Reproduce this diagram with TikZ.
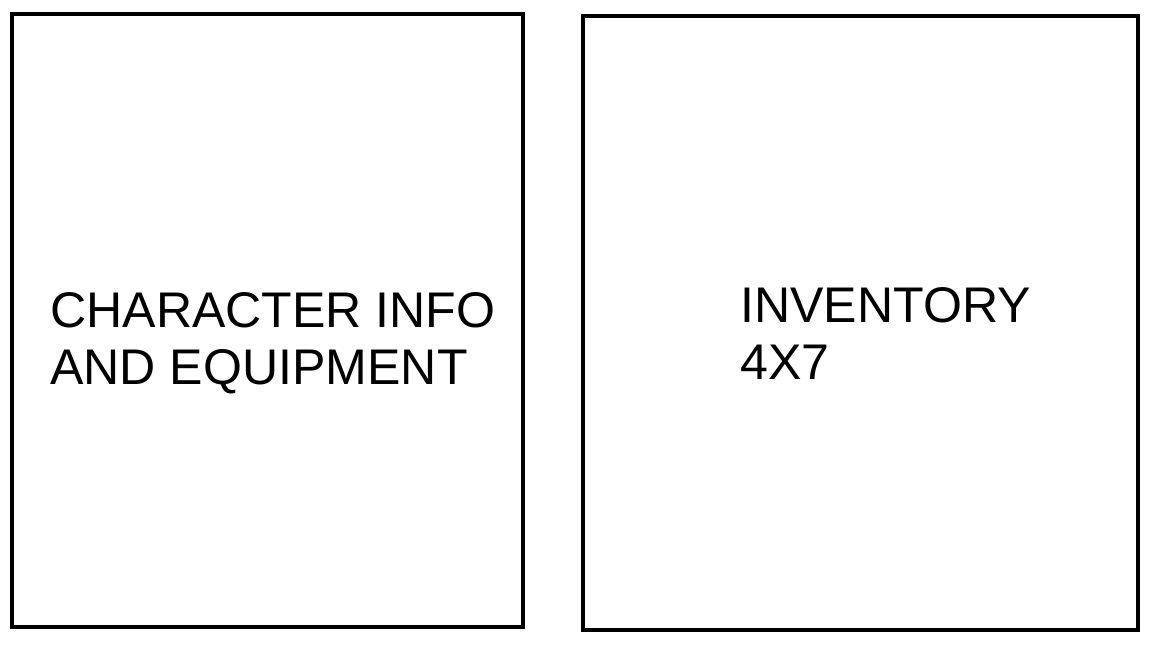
\documentclass[tikz,border=0pt]{standalone}
\usepackage{fontspec}
\setmainfont{Liberation Sans}
\usetikzlibrary{positioning}

\begin{document}
\begin{tikzpicture}[
    panel/.style={rectangle, draw=black, line width=2.3pt, fill=white, inner sep=0pt},
    label/.style={align=left, inner sep=0pt, font=\fontsize{28.5}{33}\selectfont}
]
\useasboundingbox (0,0) rectangle (23.12,12.96);

% PANELS
\node[panel, minimum width=10.22cm, minimum height=12.26cm] (charpanel) at (5.35, 6.55) {};
\node[panel, minimum width=11.10cm, minimum height=12.28cm] (invpanel) at (17.21, 6.50) {};

% LABELS
\node[label, anchor=base west] (chartext) at (1.0, 5.26) {CHARACTER INFO\\AND EQUIPMENT};
\node[label, anchor=base west] (invtext) at (14.8, 5.36) {INVENTORY\\4X7};

\end{tikzpicture}
\end{document}
